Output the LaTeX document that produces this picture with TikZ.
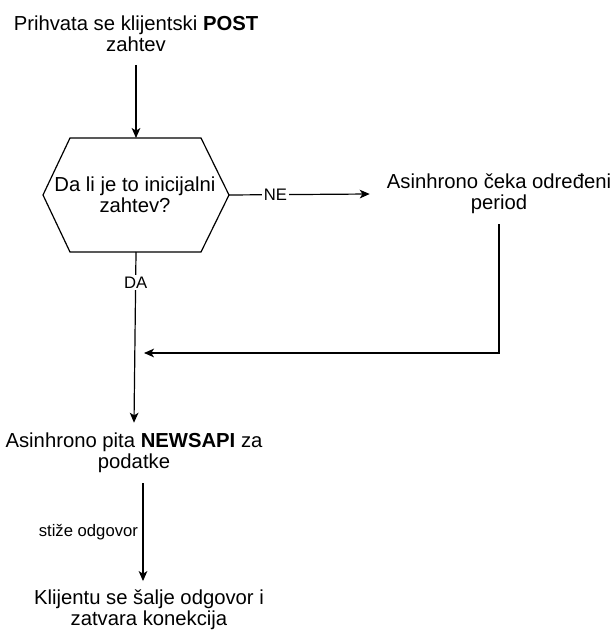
\documentclass[tikz,border=0pt]{standalone}
\usepackage{fontspec}
\setmainfont{Liberation Sans}
\usetikzlibrary{arrows.meta}

\begin{document}
\begin{tikzpicture}[x=0.75pt,y=0.75pt,yscale=-1,
  txt/.style={align=center,inner sep=0pt,font=\fontsize{15.2}{16}\selectfont},
  lbl/.style={inner sep=1.5pt,fill=white,font=\fontsize{12.5}{13}\selectfont},
  arr/.style={line width=0.9pt,-{Stealth[length=7.5pt,width=6.5pt,inset=2pt]}},
  ln/.style={line width=0.9pt}]
\useasboundingbox (0,0) rectangle (611,630);

% Text Node
\node (start) [txt,minimum height=46pt,minimum width=190pt] at (136,34) {Prihvata se klijentski \textbf{POST}\\zahtev};
%Hexagon
\coordinate (qT) at (136,138);
\coordinate (qB) at (136,252);
\coordinate (qR) at (229,195);
\draw [ln] (70,138) -- (201,138) -- (229,195) -- (201,252) -- (70,252) -- (43,195) -- cycle;
\node (q) [txt] at (135,195) {Da li je to inicijalni\\zahtev?};
% Text Node
\node (wait) [txt,minimum height=45pt,minimum width=195pt] at (499,194) {Asinhrono čeka određeni\\period};
% Text Node
\node (ask) [txt,minimum height=45pt,minimum width=190pt] at (134,453) {Asinhrono pita \textbf{NEWSAPI} za\\podatke};
% Text Node
\node (reply) [txt,minimum height=43pt,minimum width=190pt] at (149,610) {Klijentu se šalje odgovor i\\zatvara konekcija};
\coordinate (merge) at (136,353);

%Straight Lines
\draw [arr] (start) -- (qT);
\draw [arr] (qR) -- ([xshift=0.75pt]wait.west) node [pos=0.33,lbl] {NE};
\draw [arr] (qB) -- (ask.north) node [pos=0.18,lbl] {DA};
\draw [arr] (wait.south) |- ([xshift=6pt]merge);
\draw [arr] ([xshift=6.75pt]ask.south) -- ([xshift=-4.5pt]reply.north) node [midway,left,font=\fontsize{12.5}{13}\selectfont] {stiže odgovor};
\end{tikzpicture}
\end{document}
